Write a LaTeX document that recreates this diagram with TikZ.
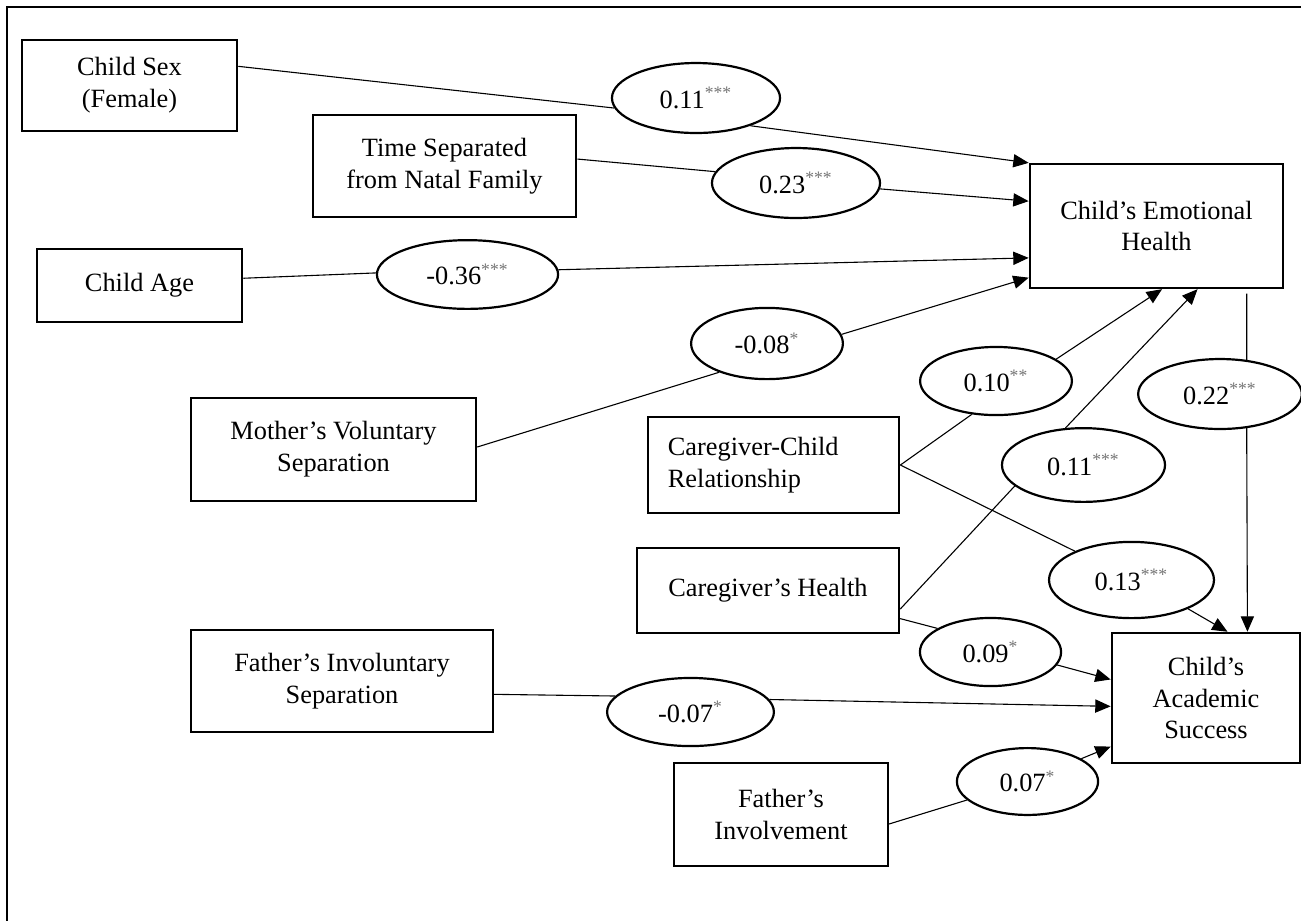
\documentclass[tikz,border=0pt]{standalone}
\usepackage{fontspec}
\setmainfont{Liberation Serif}
\usetikzlibrary{shapes.geometric,arrows.meta}
\definecolor{stargray}{gray}{0.45}
\newcommand{\pstar}[1]{\textsuperscript{\color{stargray}#1}}

\begin{document}
\begin{tikzpicture}[x=0.016cm, y=-0.016cm,
    every node/.style={font=\fontsize{12}{14.5}\selectfont},
    box/.style={rectangle, draw, line width=1.2pt, align=center, inner sep=2pt},
    coef/.style={ellipse, draw, line width=1pt, inner sep=0pt},
    link/.style={line width=0.5pt},
    arr/.style={line width=0.5pt, -{Triangle[length=7pt,width=6pt]}}]
  \useasboundingbox (0,0) rectangle (1301,920);
  % outer frame, cut off at the right and bottom
  \draw[line width=1.3pt] (7,7) rectangle (1400,1000);

  % Predictors
  \node[box, minimum width=3.44cm, minimum height=1.46cm] (sex) at (129.5,85.5) {Child Sex\\(Female)};
  \node[box, minimum width=4.21cm, minimum height=1.63cm] (time) at (444.5,166) {Time Separated\\from Natal Family};
  \node[box, minimum width=3.28cm, minimum height=1.17cm] (age) at (139.5,285.5) {Child Age};
  \node[box, minimum width=4.56cm, minimum height=1.65cm] (mother) at (333.5,449.5) {Mother's Voluntary\\Separation};
  \node[box, align=left, text width=3.38cm, inner xsep=0.32cm, minimum height=1.54cm] (ccrel) at (773.5,465) {Caregiver-Child\\Relationship};
  \node[box, minimum width=4.19cm, minimum height=1.36cm] (cghealth) at (768,590.5) {Caregiver's Health};
  \node[box, minimum width=4.83cm, minimum height=1.63cm] (fainv) at (342,681) {Father's Involuntary\\Separation};
  \node[box, minimum width=3.42cm, minimum height=1.65cm] (fainvolve) at (781,814.5) {Father's\\Involvement};

  % Outcomes
  \node[box, minimum width=4.05cm, minimum height=1.98cm] (emo) at (1156.5,226) {Child's Emotional\\Health};
  \node[box, minimum width=3.01cm, minimum height=2.08cm] (acad) at (1206,698) {Child's\\Academic\\Success};

  % Path coefficients
  \node[coef, minimum width=2.69cm, minimum height=1.12cm] (e11a) at (696,98) {0.11\pstar{***}};
  \node[coef, minimum width=2.69cm, minimum height=1.12cm] (e23) at (796,183) {0.23\pstar{***}};
  \node[coef, minimum width=2.90cm, minimum height=1.10cm] (e36) at (467.5,274.5) {-0.36\pstar{***}};
  \node[coef, minimum width=2.43cm, minimum height=1.14cm] (e08) at (767,343.5) {-0.08\pstar{*}};
  \node[coef, minimum width=2.43cm, minimum height=1.09cm] (e10) at (996,381) {0.10\pstar{**}};
  \node[coef, minimum width=2.61cm, minimum height=1.18cm] (e11b) at (1083.5,465) {0.11\pstar{***}};
  \node[coef, minimum width=2.62cm, minimum height=1.12cm] (e22) at (1220,394) {0.22\pstar{***}};
  \node[coef, minimum width=2.64cm, minimum height=1.22cm] (e13) at (1131.5,580) {0.13\pstar{***}};
  \node[coef, minimum width=2.26cm, minimum height=1.09cm] (e09) at (990.5,652) {0.09\pstar{*}};
  \node[coef, minimum width=2.67cm, minimum height=1.09cm] (e07n) at (690.5,712) {-0.07\pstar{*}};
  \node[coef, minimum width=2.26cm, minimum height=1.07cm] (e07) at (1027.5,781.5) {0.07\pstar{*}};

  % Paths into emotional health
  \draw[link] (sex.10.8) -- (e11a.187.5);
  \draw[arr] (e11a.333) -- (emo.north west);
  \draw[link] (time.3.5) -- (e23.172.5);
  \draw[arr] (e23.356.6) -- (emo.169.7);
  \draw[link] (age.4.7) -- (e36.179);
  \draw[arr] (e36.3.5) -- (emo.194.6);
  \draw[link] (mother.1) -- (e08.211.2);
  \draw[arr] (e08.7.1) -- (emo.202);
  \draw[link] (ccrel.east) -- (e10.234.8);
  \draw[arr] (e10.20.7) -- (emo.275);
  \draw[link] (cghealth.352.4) -- (e11b.197.3);
  \draw[arr] (e11b.116.6) -- (emo.303.2);

  % Paths into academic success
  \draw[link, shorten <=2pt] (emo.325.3) -- (e22.52);
  \draw[arr] (e22.308) -- (acad.58.4);
  \draw[link] (ccrel.east) -- (e13.153.2);
  \draw[arr] (e13.333.6) -- (acad.72.1);
  \draw[link] (cghealth.348.1) -- (e09.156.3);
  \draw[arr] (e09.349.8) -- (acad.169.2);
  \draw[link] (fainv.355.1) -- (e07n.168.6);
  \draw[arr] (e07n.9.3) -- (acad.185.5);
  \draw[link] (fainvolve.355.5) -- (e07.197);
  \draw[arr] (e07.23.3) -- (acad.207.5);
\end{tikzpicture}
\end{document}
